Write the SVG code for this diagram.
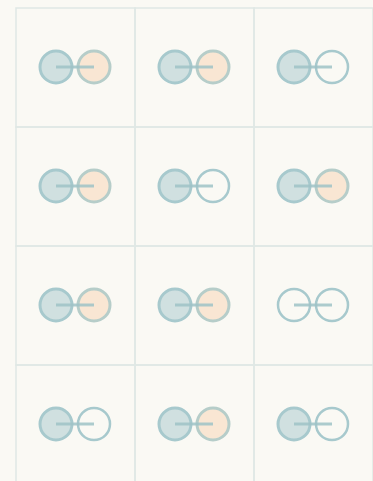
<svg xmlns="http://www.w3.org/2000/svg" width="373" height="481" viewBox="0 0 373 481">
<style>
.cell{fill:none;stroke:#dfe8e5;stroke-width:1.5}
.t{fill:#d0e0e0;stroke:#a7c9cd;stroke-width:3}
.o{fill:#f9e6d3;stroke:#b6cdc9;stroke-width:3}
.e{fill:#faf9f4;stroke:#a7c9cd;stroke-width:2.5}
.ln{stroke:#9fc3c7;stroke-width:3;opacity:0.85}
</style>
<rect width="373" height="481" fill="#faf9f4"/>
<g id="grid">
<rect class="cell" x="16" y="8" width="119" height="119"/>
<rect class="cell" x="135" y="8" width="119" height="119"/>
<rect class="cell" x="254" y="8" width="119" height="119"/>
<rect class="cell" x="16" y="127" width="119" height="119"/>
<rect class="cell" x="135" y="127" width="119" height="119"/>
<rect class="cell" x="254" y="127" width="119" height="119"/>
<rect class="cell" x="16" y="246" width="119" height="119"/>
<rect class="cell" x="135" y="246" width="119" height="119"/>
<rect class="cell" x="254" y="246" width="119" height="119"/>
<rect class="cell" x="16" y="365" width="119" height="119"/>
<rect class="cell" x="135" y="365" width="119" height="119"/>
<rect class="cell" x="254" y="365" width="119" height="119"/>
</g>
<g id="n1"><circle class="t" cx="56" cy="67" r="16"/><circle class="o" cx="94" cy="67" r="16"/></g>
<g id="n2"><circle class="t" cx="175" cy="67" r="16"/><circle class="o" cx="213" cy="67" r="16"/></g>
<g id="n3"><circle class="t" cx="294" cy="67" r="16"/><circle class="e" cx="332" cy="67" r="16"/></g>
<g id="n4"><circle class="t" cx="56" cy="186" r="16"/><circle class="o" cx="94" cy="186" r="16"/></g>
<g id="n5"><circle class="t" cx="175" cy="186" r="16"/><circle class="e" cx="213" cy="186" r="16"/></g>
<g id="n6"><circle class="t" cx="294" cy="186" r="16"/><circle class="o" cx="332" cy="186" r="16"/></g>
<g id="n7"><circle class="t" cx="56" cy="305" r="16"/><circle class="o" cx="94" cy="305" r="16"/></g>
<g id="n8"><circle class="t" cx="175" cy="305" r="16"/><circle class="o" cx="213" cy="305" r="16"/></g>
<g id="n9"><circle class="e" cx="294" cy="305" r="16"/><circle class="e" cx="332" cy="305" r="16"/></g>
<g id="n10"><circle class="t" cx="56" cy="424" r="16"/><circle class="e" cx="94" cy="424" r="16"/></g>
<g id="n11"><circle class="t" cx="175" cy="424" r="16"/><circle class="o" cx="213" cy="424" r="16"/></g>
<g id="n12"><circle class="t" cx="294" cy="424" r="16"/><circle class="e" cx="332" cy="424" r="16"/></g>
<g id="connectors">
<line class="ln" x1="56" y1="67" x2="94" y2="67"/>
<line class="ln" x1="175" y1="67" x2="213" y2="67"/>
<line class="ln" x1="294" y1="67" x2="332" y2="67"/>
<line class="ln" x1="56" y1="186" x2="94" y2="186"/>
<line class="ln" x1="175" y1="186" x2="213" y2="186"/>
<line class="ln" x1="294" y1="186" x2="332" y2="186"/>
<line class="ln" x1="56" y1="305" x2="94" y2="305"/>
<line class="ln" x1="175" y1="305" x2="213" y2="305"/>
<line class="ln" x1="294" y1="305" x2="332" y2="305"/>
<line class="ln" x1="56" y1="424" x2="94" y2="424"/>
<line class="ln" x1="175" y1="424" x2="213" y2="424"/>
<line class="ln" x1="294" y1="424" x2="332" y2="424"/>
</g>
</svg>
